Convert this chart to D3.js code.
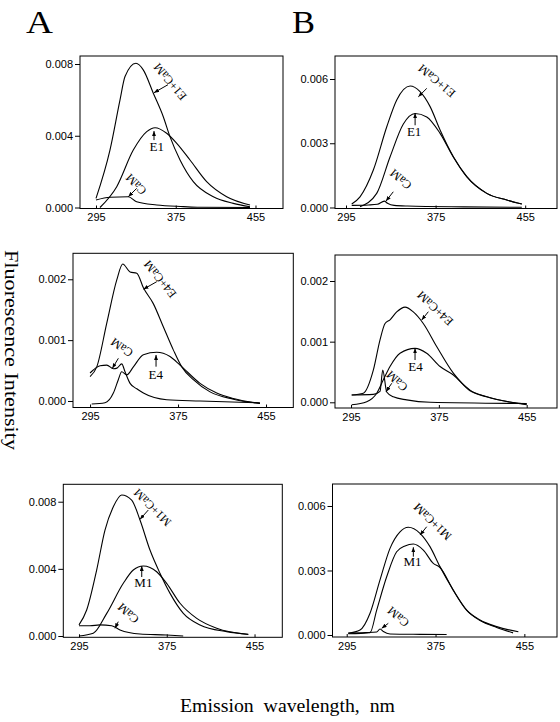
<!DOCTYPE html>
<html><head><meta charset="utf-8">
<script src="https://cdn.jsdelivr.net/npm/d3@7"></script>
<style>body{margin:0;background:#fff}</style>
</head><body>
<svg id="chart" width="560" height="722"></svg>
<script>
// ---------- data (wavelength nm, fluorescence intensity) ----------
const wavelengthTicks = [295, 375, 455];
const yTicksA1 = [0, 0.004, 0.008];
const yTicksB1 = [0, 0.003, 0.006];
const yTicksA2 = [0, 0.001, 0.002];
const yTicksB2 = [0, 0.001, 0.002];
const yTicksA3 = [0, 0.004, 0.008];
const yTicksB3 = [0, 0.003, 0.006];

const A1_E1CaM = [[295,0.00051],[309,0.0032],[319.1,0.0060],[324.1,0.0073],[335.1,0.00804],[342.4,0.00767],[352.5,0.00637],[362.5,0.00506],[369.2,0.00395],[379.3,0.00265],[392.6,0.00144],[412.7,0.0006],[432.7,0.00023],[449.5,0.00004]];
const A1_E1 = [[299,0],[315.8,0.00116],[332.4,0.0032],[345.9,0.00423],[354.2,0.00445],[365.9,0.00414],[376,0.00358],[389.3,0.00265],[406,0.00144],[426.1,0.0006],[449.5,0.00014]];
const A1_CaM = [[295,0.00042],[309,0.00057],[327.4,0.0006],[335.8,0.00032],[355.9,0.00014],[382.6,0.00005],[399,0.00001],[449.5,0]];

const B1_E1CaM = [[300.1,0.00016],[307.5,0.0005],[319.4,0.00175],[331.4,0.00377],[340.3,0.00502],[352.2,0.00567],[361.1,0.00541],[370.1,0.00471],[379,0.00362],[390.9,0.00237],[402.9,0.00144],[420.7,0.00066],[438.6,0.00035],[452,0.00016]];
const B1_E1 = [[307.5,0.00004],[322.4,0.00066],[334.3,0.00236],[346.2,0.0039],[356.7,0.00439],[367.1,0.00423],[379,0.00346],[390.9,0.00235],[402.9,0.00143],[420.7,0.00066],[438.6,0.00035],[452,0.00016]];
const B1_CaM = [[300.1,0.0001],[315,0.00012],[323,0.00015],[329.2,0.0003],[332,0.0002],[338,0.0001],[350,0.00007],[400,0.00003],[452,0.00001]];

const A2_E4CaM = [[295,0.0004],[301.1,0.00056],[310.2,0.00128],[319.3,0.00199],[324.7,0.00225],[331.4,0.00212],[337.5,0.0021],[343.5,0.00186],[352.5,0.0016],[361.6,0.00122],[370.7,0.00084],[378.4,0.00056],[388.9,0.00035],[404.1,0.00015],[425.3,0.00003],[449.5,-0.00004]];
const A2_E4 = [[296.5,-0.00005],[308.6,-0.00003],[316.2,0.00013],[320.7,0.00035],[323.8,0.00048],[328.4,0.00043],[334.4,0.00056],[343.5,0.00076],[355.6,0.0008],[367.7,0.00073],[376.8,0.00059],[395,0.00029],[410.2,0.00013],[425.3,0.00004],[449.5,-0.00004]];
const A2_CaM = [[295,0.00046],[304.1,0.00058],[310.2,0.00059],[316.2,0.00053],[319.5,0.00054],[323.8,0.00061],[326.8,0.00048],[331.4,0.00029],[337.5,0.0002],[343.5,0.00013],[364.7,0.00002],[395,0],[449.5,-0.00003]];

const B2_E4CaM = [[295.6,0.00012],[306.2,0.00015],[315.3,0.00053],[321.4,0.00103],[326,0.0013],[330.5,0.00136],[336.6,0.00149],[344.2,0.00157],[351.7,0.00149],[360.8,0.0013],[373,0.00092],[388.2,0.00048],[403.4,0.0002],[418.6,0.00009],[455,-0.00003]];
const B2_E4 = [[295.6,-0.00004],[309.3,0.00001],[318.4,0.00015],[324.4,0.00037],[330.5,0.00059],[339.6,0.00081],[353.3,0.00089],[363.9,0.00081],[376.1,0.00059],[388.2,0.00045],[403.4,0.00019],[418.6,0.00009],[455,-0.00004]];
const B2_CaM = [[295.6,0.00012],[315.3,0.00013],[321.4,0.00018],[323.9,0.00053],[327.5,0.00017],[333.5,0.00009],[345.7,0.00004],[367,0],[455,-0.00002]];

const A3_M1CaM = [[295,0.00066],[302,0.00155],[311.1,0.00393],[318.7,0.00631],[326.3,0.0077],[333.9,0.0084],[343,0.0081],[350.6,0.00691],[359.7,0.00512],[368.8,0.00374],[378,0.00254],[390.1,0.00135],[405.3,0.00066],[429.6,0.00026],[449.3,0.0001]];
const A3_M1 = [[295,0],[308,0.00016],[320.3,0.00135],[335.4,0.00314],[344.5,0.00393],[353.6,0.00417],[365.8,0.00383],[374.9,0.00314],[387.1,0.00195],[402.3,0.00105],[420.5,0.00046],[449.3,0.00009]];
const A3_CaM = [[295,0.00061],[305,0.00061],[314.1,0.00066],[324.8,0.00061],[332.4,0.00036],[350.6,0.00012],[375,0.00006],[390,0]];

const B3_M1CaM = [[296.4,0.00008],[307,0.00023],[316,0.00101],[325,0.00256],[334,0.00403],[343,0.0048],[350.5,0.00501],[361,0.00473],[370,0.00411],[379,0.00318],[391,0.00209],[403.1,0.00116],[415.1,0.0007],[430.1,0.00039],[449.6,0.00015]];
const B3_M1 = [[296.4,0.00006],[316,0.00011],[322,0.00116],[331,0.00271],[340,0.00387],[347.5,0.00414],[355,0.00423],[364,0.00395],[373,0.00333],[379,0.00314],[391,0.00207],[403.1,0.00114],[415.1,0.00067],[430.1,0.00035],[444.8,0.0001]];
const B3_CaM = [[296.4,0.00009],[312.4,0.00011],[322,0.00014],[325,0.00028],[328,0.00016],[334,0.00005],[361,0.00003],[385,0.00002]];

// ---------- layout ----------
const panels = [
  {box:[80,56,283,208.5], xd:[278.95,482.6], yd:[-0.0000557,0.008446], ticks:yTicksA1, series:[A1_E1CaM,A1_E1,A1_CaM],
   notes:[{t:"E1+CaM",nm:353.2,v:0.0064,tail:[14,-8],lab:[16,-11],rot:-130},{t:"E1",nm:353.2,v:0.00426,tail:[0,9],lab:[2.7,15],rot:0},{t:"CaM",nm:327.4,v:0.0006,tail:[8.4,-8.4],lab:[7.7,-12.5],rot:-135}]},
  {box:[335,56,557,208.5], xd:[285.17,483.4], yd:[-0.0000467,0.007074], ticks:yTicksB1, series:[B1_E1CaM,B1_E1,B1_CaM],
   notes:[{t:"E1+CaM",nm:359.6,v:0.00517,tail:[8.4,-8.4],lab:[18.4,-15.9],rot:-140},{t:"E1",nm:356.7,v:0.0044,tail:[0,12],lab:[-1,18],rot:0},{t:"CaM",nm:330.7,v:0.0003,tail:[7.3,-9.3],lab:[14.8,-21.8],rot:-140}]},
  {box:[73,253.3,293.3,407.5], xd:[279.5,479.8], yd:[-0.000107,0.002427], ticks:yTicksA2, series:[A2_E4CaM,A2_E4,A2_CaM],
   notes:[{t:"E4+CaM",nm:343.5,v:0.001836,tail:[13.4,-7.6],lab:[16.7,-10.1],rot:-129},{t:"E4",nm:355,v:0.000756,tail:[0,11.7],lab:[-0.2,19.2],rot:0},{t:"CaM",nm:315.3,v:0.000537,tail:[6,-10],lab:[9.4,-20.8],rot:-145}]},
  {box:[335,255,557,408], xd:[280.4,482.6], yd:[-0.000094,0.002429], ticks:yTicksB2, series:[B2_E4CaM,B2_E4,B2_CaM],
   notes:[{t:"E4+CaM",nm:359.4,v:0.001357,tail:[6.6,-8.3],lab:[13.3,-11.7],rot:-137},{t:"E4",nm:353.3,v:0.00089,tail:[0,11.7],lab:[0.5,18.4],rot:0},{t:"CaM",nm:326.9,v:0.000175,tail:[5.7,-8.4],lab:[11,-10.7],rot:-137}]},
  {box:[63.3,484.3,282.3,637.3], xd:[280.7,480.3], yd:[-0.0000774,0.009037], ticks:yTicksA3, series:[A3_M1CaM,A3_M1,A3_CaM],
   notes:[{t:"M1+CaM",nm:350.6,v:0.00695,tail:[8.3,-9.3],lab:[12.5,-11.8],rot:-135},{t:"M1",nm:352.2,v:0.00417,tail:[0,11],lab:[1.6,16],rot:0},{t:"CaM",nm:327.8,v:0.00046,tail:[3.3,-6.6],lab:[13.3,-15],rot:-138}]},
  {box:[332.5,484,557,637], xd:[282.2,484.4], yd:[-0.000093,0.007023], ticks:yTicksB3, series:[B3_M1CaM,B3_M1,B3_CaM],
   notes:[{t:"M1+CaM",nm:361,v:0.00465,tail:[6.7,-8.3],lab:[12.5,-13.3],rot:-136},{t:"M1",nm:355,v:0.00408,tail:[0,9.4],lab:[-0.8,14.4],rot:0},{t:"CaM",nm:326.5,v:0.00031,tail:[6.6,-5],lab:[16.6,-11.6],rot:-140}]}
];

const svg = d3.select("#chart");
const serif = "'Liberation Serif','Times New Roman',serif";
const sans = "'Liberation Sans',Arial,sans-serif";

svg.append("defs").append("marker")
  .attr("id","ah").attr("markerUnits","userSpaceOnUse")
  .attr("markerWidth",5).attr("markerHeight",4).attr("refX",5).attr("refY",2)
  .attr("orient","auto")
  .append("path").attr("d","M0,0L5,2L0,4Z").attr("fill","#000");

panels.forEach(p => {
  const [l,t,r,b] = p.box;
  const x = d3.scaleLinear().domain(p.xd).range([l,r]);
  const y = d3.scaleLinear().domain(p.yd).range([b,t]);
  const g = svg.append("g");

  g.append("rect").attr("x",l).attr("y",t).attr("width",r-l).attr("height",b-t)
    .attr("fill","none").attr("stroke","#000").attr("stroke-width",1);

  const ya = g.append("g").attr("transform",`translate(${l},0)`)
    .call(d3.axisLeft(y).tickValues(p.ticks).tickSize(5).tickPadding(2).tickFormat(d3.format(".3f")));
  const xa = g.append("g").attr("transform",`translate(0,${b})`)
    .call(d3.axisBottom(x).tickValues(wavelengthTicks).tickSize(-3).tickPadding(5).tickFormat(d3.format("d")));
  [ya,xa].forEach(a => {
    a.select(".domain").remove();
    a.selectAll("text").attr("font-family",sans).attr("font-size",11).attr("fill","#000");
    a.selectAll("line").attr("stroke","#000");
  });

  const line = d3.line().x(d=>x(d[0])).y(d=>y(d[1])).curve(d3.curveMonotoneX);
  p.series.forEach(s => {
    g.append("path").attr("d",line(s)).attr("fill","none").attr("stroke","#000").attr("stroke-width",1.1);
  });

  p.notes.forEach(n => {
    const tx = x(n.nm), ty = y(n.v);
    g.append("line").attr("x1",tx+n.tail[0]).attr("y1",ty+n.tail[1]).attr("x2",tx).attr("y2",ty)
      .attr("stroke","#000").attr("stroke-width",1).attr("marker-end","url(#ah)");
    g.append("text").attr("transform",`translate(${tx+n.lab[0]},${ty+n.lab[1]}) rotate(${n.rot})`)
      .attr("text-anchor","middle").attr("dominant-baseline","central")
      .attr("font-family",serif).attr("font-size", n.rot===0 ? 13 : 12).text(n.t);
  });
});

svg.append("text").attr("x",26).attr("y",33).attr("font-family",serif).attr("font-size",31)
  .attr("textLength",27).attr("lengthAdjust","spacingAndGlyphs").text("A");
svg.append("text").attr("x",292).attr("y",33).attr("font-family",serif).attr("font-size",31)
  .attr("textLength",23).attr("lengthAdjust","spacingAndGlyphs").text("B");

svg.append("text").attr("transform","translate(5,250) rotate(90)")
  .attr("font-family",serif).attr("font-size",19)
  .attr("textLength",200).attr("lengthAdjust","spacingAndGlyphs").text("Fluorescence Intensity");

svg.append("text").attr("x",180).attr("y",712)
  .attr("font-family",serif).attr("font-size",19)
  .attr("textLength",215).attr("lengthAdjust","spacingAndGlyphs").text("Emission  wavelength,  nm")
  .style("white-space","pre");
</script>
</body></html>
